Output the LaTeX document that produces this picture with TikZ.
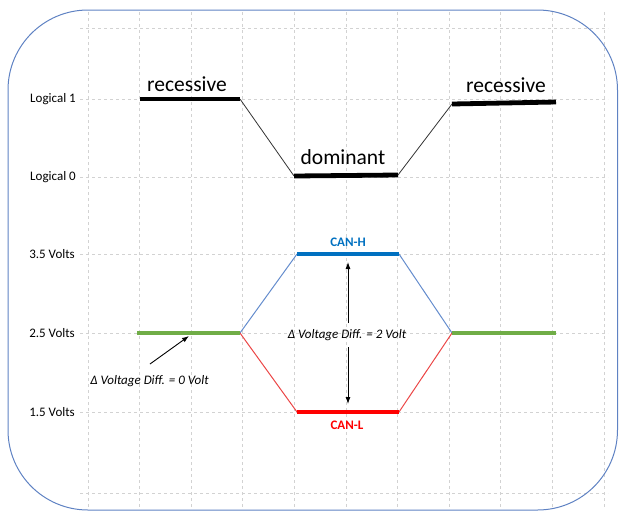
\documentclass[tikz,border=0pt]{standalone}
\usepackage{fontspec}
\setmainfont{Carlito}
\usetikzlibrary{arrows.meta}
\definecolor{canblue}{RGB}{0,112,192}
\definecolor{thinblue}{RGB}{100,140,205}
\definecolor{canred}{RGB}{255,0,0}
\definecolor{thinred}{RGB}{235,70,70}
\definecolor{cangreen}{RGB}{112,173,71}
\definecolor{gridgray}{RGB}{210,210,210}
\definecolor{framecol}{RGB}{95,130,195}
\tikzset{
  gridline/.style={draw=gridgray, line width=0.7pt, dash pattern=on 3pt off 3pt},
  frameline/.style={draw=framecol, line width=1pt, rounded corners=80pt},
  levellabel/.style={anchor=east, inner sep=0pt, font=\fontsize{13}{15}\selectfont},
  statelabel/.style={inner sep=0pt, font=\fontsize{21.5}{24}\selectfont},
  canlabel/.style={inner sep=0pt, font=\fontsize{13}{15}\selectfont\bfseries},
  difflabel/.style={inner sep=0pt, font=\fontsize{13}{15}\selectfont\itshape},
  logicthick/.style={line width=4.8pt, draw=black},
  logicthin/.style={line width=0.8pt, draw=black!80},
  sigthick/.style={line width=4.8pt},
  sigthin/.style={line width=1pt},
  arr/.style={-{Latex[length=7pt,width=5pt]}, line width=0.9pt, draw=black}
}
\begin{document}
\begin{tikzpicture}[x=1pt,y=-1pt]
\useasboundingbox (0,0) rectangle (619,512);
% grid
\foreach \x in {88,139.6,191.2,242.8,294.4,346,397.6,449.2,500.8,552.4,604}
  \draw[gridline] (\x,12) -- (\x,508);
\foreach \y in {28,99,177,254,333,412,493}
  \draw[gridline] (80,\y) -- (608,\y);
% frame
\draw[frameline] (8,10) rectangle (617.5,510);
% level labels
\node[levellabel] (lg1) at (76,99) {Logical 1};
\node[levellabel] (lg0) at (76,177) {Logical 0};
\node[levellabel] (v35) at (75,254) {3.5 Volts};
\node[levellabel] (v25) at (75,333) {2.5 Volts};
\node[levellabel] (v15) at (75,412) {1.5 Volts};
% logic levels
\coordinate (r1a) at (140,99);
\coordinate (r1b) at (240,99);
\coordinate (d0a) at (294,176);
\coordinate (d0b) at (398,175);
\coordinate (r2a) at (452,104);
\coordinate (r2b) at (556,102);
\draw[logicthick] (r1a) -- (r1b);
\draw[logicthin] (r1b) -- (d0a);
\draw[logicthick] (d0a) -- (d0b);
\draw[logicthin] (d0b) -- (r2a);
\draw[logicthick] (r2a) -- (r2b);
\node[statelabel] (rec1) at (187,84) {recessive};
\node[statelabel] (dom) at (343,157) {dominant};
\node[statelabel] (rec2) at (506,85) {recessive};
% CAN signals
\coordinate (g1a) at (137,333);
\coordinate (g1b) at (240,333);
\coordinate (ha) at (297,254);
\coordinate (hb) at (399,254);
\coordinate (la) at (297,412);
\coordinate (lb) at (399,412);
\coordinate (g2a) at (452,333);
\coordinate (g2b) at (556,333);
\draw[sigthin, draw=thinblue] (g1b) -- (ha);
\draw[sigthin, draw=thinblue] (hb) -- (g2a);
\draw[sigthin, draw=thinred] (g1b) -- (la);
\draw[sigthin, draw=thinred] (lb) -- (g2a);
\draw[sigthick, draw=cangreen] (g1a) -- (g1b);
\draw[sigthick, draw=cangreen] (g2a) -- (g2b);
\draw[sigthick, draw=canblue] (ha) -- (hb);
\draw[sigthick, draw=canred] (la) -- (lb);
\node[canlabel, text=canblue] (canh) at (348,242) {CAN-H};
\node[canlabel, text=canred] (canl) at (347,425) {CAN-L};
% differential annotations
\node[difflabel] (dv2) at (347,335) {Δ Voltage Diff. = 2 Volt};
\coordinate (a2s) at (348,323);
\coordinate (a2t) at (348,262);
\coordinate (a3s) at (348,347);
\coordinate (a3t) at (348,404);
\draw[arr] (a2s) -- (a2t);
\draw[arr] (a3s) -- (a3t);
\node[difflabel] (dv0) at (149.5,381) {Δ Voltage Diff. = 0 Volt};
\coordinate (a0s) at (150,364);
\coordinate (a0t) at (189,336);
\draw[arr] (a0s) -- (a0t);
\end{tikzpicture}
\end{document}
